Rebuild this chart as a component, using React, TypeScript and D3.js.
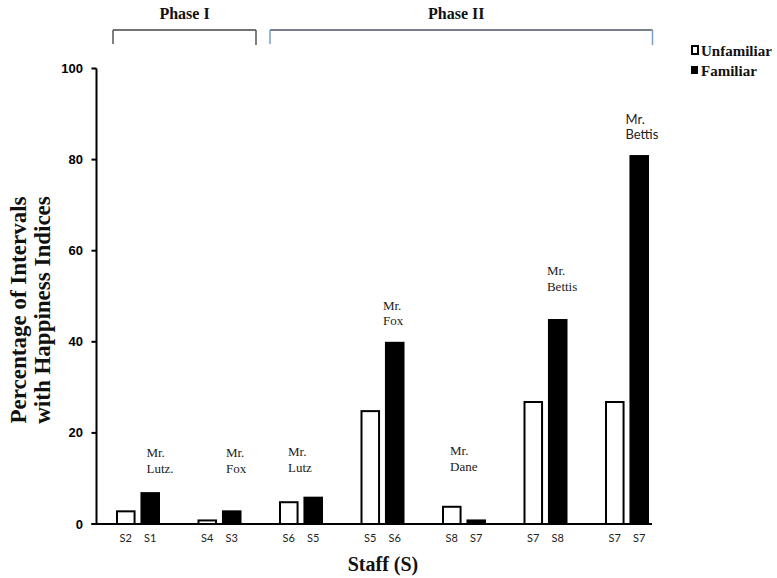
import React from "react";
import * as d3 from "d3";

// ---- data ----
const groups = ["G1", "G2", "G3", "G4", "G5", "G6", "G7"];
const seriesKeys = ["Unfamiliar", "Familiar"];
const unfamiliarValues = [3, 1, 5, 25, 4, 27, 27];
const familiarValues = [7, 3, 6, 40, 1, 45, 81];
const unfamiliarStaff = ["S2", "S4", "S6", "S5", "S8", "S7", "S7"];
const familiarStaff = ["S1", "S3", "S5", "S6", "S7", "S8", "S7"];
const yTicks = [0, 20, 40, 60, 80, 100];
const phases = [
  { label: "Phase I", from: 0, to: 1 },
  { label: "Phase II", from: 2, to: 6 },
];
// annotation: group index, bar it sits over, anchor value (first line baseline), lines
const annotations = [
  { group: 0, bar: "Familiar", value: 14.6, lines: ["Mr.", "Lutz."], sans: false },
  { group: 1, bar: "Familiar", value: 14.7, lines: ["Mr.", "Fox"], sans: false },
  { group: 2, bar: "Unfamiliar", value: 14.9, lines: ["Mr.", "Lutz"], sans: false },
  { group: 3, bar: "Familiar", value: 47.0, lines: ["Mr.", "Fox"], sans: false },
  { group: 4, bar: "Unfamiliar", value: 15.1, lines: ["Mr.", "Dane"], sans: false },
  { group: 5, bar: "Familiar", value: 54.6, lines: ["Mr.", "Bettis"], sans: false },
  { group: 6, bar: "Familiar", value: 87.9, lines: ["Mr.", "Bettis"], sans: true },
];
const annotationDx = [6, 4, 9, -2, 8, -1, -4];

const W = 777;
const H = 578;
const serif = "'Liberation Serif', 'Times New Roman', serif";
const sans = "'Liberation Sans', Arial, sans-serif";
const lato = "Lato, 'Liberation Sans', sans-serif";

export default function App() {
  const y = d3.scaleLinear().domain([0, 100]).range([524, 68.5]);
  const x0 = d3.scaleBand<string>().domain(groups).range([97.25, 667.75]).padding(0);
  const x1 = d3.scaleBand<string>().domain(seriesKeys).range([0, 44]).paddingInner(0.2);
  const gStart = (i: number) => (x0(groups[i]) as number) + x0.bandwidth() / 2 - 22;
  const barX = (i: number, key: string) => gStart(i) + (x1(key) as number);
  const bw = x1.bandwidth();
  const axisX = 96.5;
  const axisY = y(0);

  return (
    <svg
      width={W}
      height={H}
      style={{ position: "absolute", left: 0, top: 0, background: "#fff" }}
      xmlns="http://www.w3.org/2000/svg"
    >
      {/* phase brackets */}
      {phases.map((p, k) => {
        const left = k === 0 ? 113 : 270;
        const right = k === 0 ? 256 : 652.5;
        const stroke = k === 0 ? "#444" : "#4a5566";
        const vstroke = k === 0 ? "#555" : "#7a9cc8";
        const cx = (left + right) / 2 + (k === 0 ? 0 : -5);
        return (
          <g key={p.label}>
            <text x={cx} y={19} textAnchor="middle" fontFamily={serif} fontWeight="bold" fontSize={16} fill="#111">
              {p.label}
            </text>
            <line x1={left} x2={right} y1={30} y2={30} stroke={stroke} strokeWidth={1.5} />
            <line x1={left} x2={left} y1={30} y2={44} stroke={vstroke} strokeWidth={1.5} />
            <line x1={right} x2={right} y1={30} y2={45} stroke={vstroke} strokeWidth={1.5} />
          </g>
        );
      })}

      {/* legend */}
      <rect x={692} y={46} width={6} height={8} fill="#fff" stroke="#000" strokeWidth={2} />
      <text x={701} y={55.5} fontFamily={serif} fontWeight="bold" fontSize={15} fill="#111">
        Unfamiliar
      </text>
      <rect x={691} y={66} width={7} height={8} fill="#000" />
      <text x={701} y={75.5} fontFamily={serif} fontWeight="bold" fontSize={15} fill="#111">
        Familiar
      </text>

      {/* y axis title */}
      <g transform={`translate(0,310) rotate(-90)`}>
        <text x={0} y={26} textAnchor="middle" fontFamily={serif} fontWeight="bold" fontSize={23} fill="#111">
          Percentage of Intervals
        </text>
        <text x={0} y={50} textAnchor="middle" fontFamily={serif} fontWeight="bold" fontSize={23} fill="#111">
          with Happiness Indices
        </text>
      </g>

      {/* bars */}
      {groups.map((g, i) => (
        <g key={g}>
          <rect
            x={barX(i, "Unfamiliar") + 1}
            y={y(unfamiliarValues[i]) + 1}
            width={bw - 2}
            height={axisY - y(unfamiliarValues[i]) - 1}
            fill="#fff"
            stroke="#000"
            strokeWidth={2}
          />
          <rect
            x={barX(i, "Familiar")}
            y={y(familiarValues[i])}
            width={bw}
            height={axisY - y(familiarValues[i])}
            fill="#000"
          />
          <text
            x={barX(i, "Unfamiliar") + bw / 2}
            y={542}
            textAnchor="middle"
            fontFamily={lato}
            fontSize={11}
            fill="#222"
          >
            {unfamiliarStaff[i]}
          </text>
          <text
            x={barX(i, "Familiar") + bw / 2}
            y={542}
            textAnchor="middle"
            fontFamily={lato}
            fontSize={11}
            fill="#222"
          >
            {familiarStaff[i]}
          </text>
        </g>
      ))}

      {/* annotations */}
      {annotations.map((a, k) => (
        <text
          key={k}
          x={barX(a.group, a.bar) + annotationDx[k]}
          y={y(a.value)}
          fontFamily={a.sans ? lato : serif}
          fontSize={13}
          fill="#222"
        >
          {a.lines.map((ln, j) => (
            <tspan key={j} x={barX(a.group, a.bar) + annotationDx[k]} dy={j === 0 ? 0 : 15.5}>
              {ln}
            </tspan>
          ))}
        </text>
      ))}

      {/* axes */}
      <line x1={axisX} x2={axisX} y1={y(100)} y2={axisY + 1} stroke="#000" strokeWidth={2} />
      <line x1={91.5} x2={652} y1={axisY} y2={axisY} stroke="#000" strokeWidth={2} />
      {yTicks.map((t) => (
        <g key={t}>
          <line x1={91.5} x2={axisX} y1={y(t)} y2={y(t)} stroke="#000" strokeWidth={2} />
          <text
            x={83}
            y={y(t) + 4.5}
            textAnchor="end"
            fontFamily={sans}
            fontWeight="bold"
            fontSize={13}
            fill="#000"
          >
            {t}
          </text>
        </g>
      ))}

      {/* x axis title */}
      <text x={383} y={571} textAnchor="middle" fontFamily={serif} fontWeight="bold" fontSize={20} fill="#111">
        Staff (S)
      </text>
    </svg>
  );
}
